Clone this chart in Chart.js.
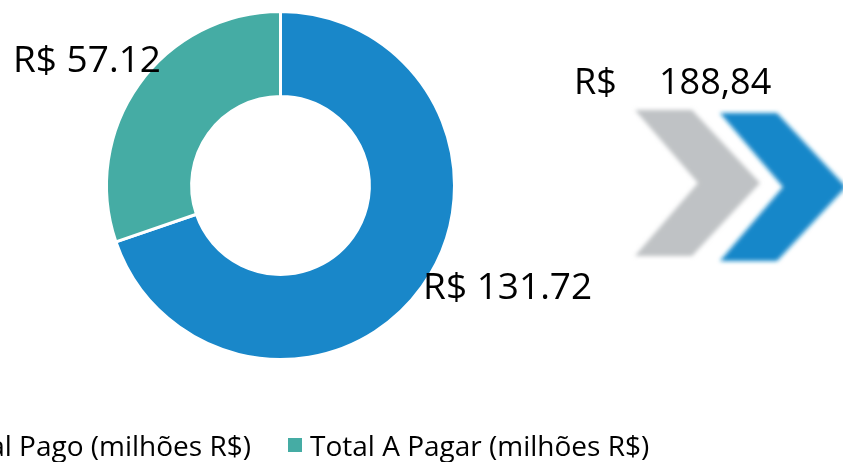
<!DOCTYPE html>
<html>
<head>
<meta charset="utf-8">
<script src="https://cdn.jsdelivr.net/npm/chart.js@4.4.1/dist/chart.umd.min.js"></script>
<style>
  html, body { margin: 0; padding: 0; background: #ffffff; }
  body { width: 843px; height: 462px; position: relative; overflow: hidden; font-family: "Open Sans", sans-serif; color: #000; }
  #grafico { position: absolute; left: 0; top: 0; }
  .testo { position: absolute; font-size: 36px; line-height: 36px; white-space: pre; }
  #legenda .voce { position: absolute; top: 431px; height: 28px; display: flex; align-items: center; font-size: 28px; line-height: 28px; white-space: nowrap; }
  #legenda .quadrato { width: 14px; height: 14px; margin-right: 8px; flex: none; }
  #frecce { position: absolute; left: 0; top: 0; }
</style>
</head>
<body>
<canvas id="grafico" width="843" height="462"></canvas>

<!-- Totale e frecce a destra -->
<svg id="frecce" width="843" height="462">
  <defs>
    <filter id="sfoca" x="-10%" y="-10%" width="120%" height="120%">
      <feGaussianBlur stdDeviation="2"></feGaussianBlur>
    </filter>
  </defs>
  <polygon points="635,110 692,110 760,183 692,256 635,256 698,183" fill="#bfc2c5" filter="url(#sfoca)"></polygon>
  <polygon points="720,113 777,113 846,187 777,261 720,261 783,187" fill="#1987c9" filter="url(#sfoca)"></polygon>
</svg>
<div class="testo" id="valuta" style="left:574px; top:63px;"></div>
<div class="testo" id="totale" style="left:659px; top:63px;"></div>

<div id="legenda"></div>

<script>
// Dati del grafico
var etichette = ['Total Pago (milhões R$)', 'Total A Pagar (milhões R$)'];
var valori = [131.72, 57.12];
var colori = ['#1987c9', '#45aca4'];

// Posizione delle voci della legenda (la prima esce dal bordo sinistro)
var posizioniLegenda = [{ right: '592px' }, { left: '288px' }];

// Totale mostrato accanto alle frecce
var somma = valori.reduce(function (a, b) { return a + b; }, 0);
document.getElementById('valuta').textContent = 'R$';
document.getElementById('totale').textContent = somma.toFixed(2).replace('.', ',');

// Legenda in HTML
var legenda = document.getElementById('legenda');
etichette.forEach(function (testo, i) {
  var voce = document.createElement('div');
  voce.className = 'voce';
  Object.assign(voce.style, posizioniLegenda[i]);
  var quadrato = document.createElement('span');
  quadrato.className = 'quadrato';
  quadrato.style.background = colori[i];
  var scritta = document.createElement('span');
  scritta.textContent = testo;
  voce.appendChild(quadrato);
  voce.appendChild(scritta);
  legenda.appendChild(voce);
});

// Plugin per scrivere i valori fuori dalle fette
var etichetteFette = {
  id: 'etichetteFette',
  afterDatasetsDraw: function (chart, args, opts) {
    var ctx = chart.ctx;
    var meta = chart.getDatasetMeta(0);
    ctx.save();
    ctx.font = opts.font;
    ctx.fillStyle = '#000000';
    ctx.textBaseline = 'alphabetic';
    meta.data.forEach(function (arco, i) {
      var p = arco.getProps(['x', 'y', 'startAngle', 'endAngle', 'outerRadius']);
      var medio = (p.startAngle + p.endAngle) / 2;
      var x = p.x + Math.cos(medio) * p.outerRadius;
      var y = p.y + Math.sin(medio) * p.outerRadius;
      ctx.textAlign = Math.cos(medio) >= 0 ? 'left' : 'right';
      var sposta = opts.spostamenti[i];
      ctx.fillText('R$ ' + valori[i].toFixed(2), x + sposta[0], y + sposta[1]);
    });
    ctx.restore();
  }
};

const ChartTotali = new Chart(
  document.getElementById('grafico'),
  {
    type: 'doughnut',
    data: {
      labels: etichette,
      datasets: [{
        data: valori,
        backgroundColor: colori,
        borderColor: '#ffffff',
        borderWidth: 3,
        radius: 174,
        cutout: 94
      }]
    },
    options: {
      responsive: false,
      devicePixelRatio: 1,
      animation: false,
      layout: { padding: { left: 0, right: 282, top: 0, bottom: 91 } },
      plugins: {
        legend: { display: false },
        tooltip: { enabled: false },
        etichetteFette: {
          font: '37px "Open Sans"',
          spostamenti: [[1, 12], [22, -12]]
        }
      }
    },
    plugins: [etichetteFette]
  }
);
</script>
</body>
</html>
